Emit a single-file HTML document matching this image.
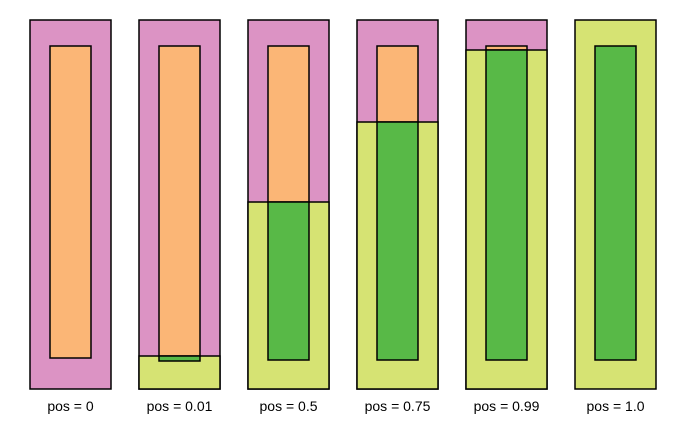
<!DOCTYPE html>
<html><head><style>body{margin:0;background:#fff}svg{display:block}text{font-family:"Liberation Sans",sans-serif;font-size:14px;fill:#000}</style></head><body>
<svg width="677" height="434" xmlns="http://www.w3.org/2000/svg">
<defs>
<g id="b"></g>
</defs>
<g stroke="#000" stroke-width="1.5">
<!-- box1 -->
<rect x="30" y="20" width="81" height="369" fill="#dc93c4"/>
<rect x="50" y="46" width="41" height="312" fill="#fbb676"/>
<!-- box2 -->
<rect x="139" y="20" width="81" height="369" fill="#dc93c4"/>
<rect x="139" y="356" width="81" height="33" fill="#d6e373"/>
<rect x="159" y="46" width="41" height="310" fill="#fbb676"/>
<rect x="159" y="356" width="41" height="5" fill="#58b947"/>
<!-- box3 -->
<rect x="248" y="20" width="81" height="369" fill="#dc93c4"/>
<rect x="248" y="202" width="81" height="187" fill="#d6e373"/>
<rect x="268" y="46" width="41" height="156" fill="#fbb676"/>
<rect x="268" y="202" width="41" height="158" fill="#58b947"/>
<!-- box4 -->
<rect x="357" y="20" width="81" height="369" fill="#dc93c4"/>
<rect x="357" y="122" width="81" height="267" fill="#d6e373"/>
<rect x="377" y="46" width="41" height="76" fill="#fbb676"/>
<rect x="377" y="122" width="41" height="238" fill="#58b947"/>
<!-- box5 -->
<rect x="466" y="20" width="81" height="369" fill="#dc93c4"/>
<rect x="466" y="50" width="81" height="339" fill="#d6e373"/>
<rect x="486" y="46" width="41" height="4" fill="#fbb676"/>
<rect x="486" y="50" width="41" height="310" fill="#58b947"/>
<!-- box6 -->
<rect x="575" y="20" width="81" height="369" fill="#d6e373"/>
<rect x="595" y="46" width="41" height="314" fill="#58b947"/>
</g>
<g text-anchor="middle">
<text x="70.5" y="411">pos = 0</text>
<text x="179.5" y="411">pos = 0.01</text>
<text x="288.5" y="411">pos = 0.5</text>
<text x="397.5" y="411">pos = 0.75</text>
<text x="506.5" y="411">pos = 0.99</text>
<text x="615.5" y="411">pos = 1.0</text>
</g>
</svg>
</body></html>
